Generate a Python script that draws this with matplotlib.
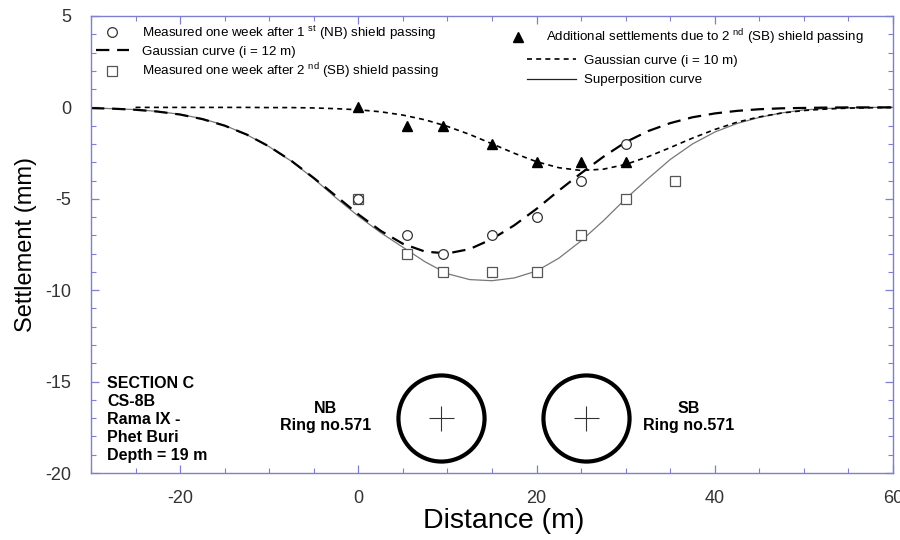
import numpy as np
import matplotlib
matplotlib.use('Agg')
import matplotlib.pyplot as plt
from matplotlib.lines import Line2D
from matplotlib.ticker import MultipleLocator, FixedLocator

plt.rcParams['font.family'] = ['Liberation Sans', 'DejaVu Sans']
plt.rcParams['mathtext.fontset'] = 'custom'
plt.rcParams['mathtext.rm'] = 'Liberation Sans'
plt.rcParams['axes.unicode_minus'] = False

# measured points
x_pts = [0, 5.5, 9.5, 15, 20, 25, 30]
nb_meas = [-5, -7, -8, -7, -6, -4, -2]
add_meas = [0, -1, -1, -2, -3, -3, -3]
x_sb = [0, 5.5, 9.5, 15, 20, 25, 30, 35.5]
sb_meas = [-5, -8, -9, -9, -9, -7, -5, -4]

# curves (every 2.5 m)
x_curve = [-30, -27.5, -25, -22.5, -20, -17.5, -15, -12.5, -10, -7.5, -5, -2.5,
           0, 2.5, 5, 7.5, 10, 12.5, 15, 17.5, 20, 22.5, 25, 27.5, 30, 32.5,
           35, 37.5, 40, 42.5, 45, 47.5, 50, 52.5, 55, 57.5, 60]
gauss12 = [-0.04, -0.07, -0.13, -0.23, -0.39, -0.64, -1.0, -1.49, -2.14, -2.93, -3.86, -4.85,
           -5.85, -6.75, -7.46, -7.89, -7.99, -7.75, -7.2, -6.45, -5.55, -4.55, -3.6, -2.7,
           -1.9, -1.3, -0.86, -0.54, -0.33, -0.19, -0.1, -0.05, -0.03, -0.01, 0, 0, 0]
x_curve2 = x_curve[2:]
gauss10 = [0, 0, 0, 0, 0, 0, -0.01, -0.01, -0.03, -0.07,
           -0.13, -0.24, -0.42, -0.68, -1.04, -1.48, -1.99, -2.51, -2.97, -3.3, -3.45, -3.38,
           -3.12, -2.7, -2.2, -1.68, -1.21, -0.81, -0.52, -0.31, -0.17, -0.09, -0.04, -0.02, 0]
superpos = [-0.03, -0.07, -0.12, -0.22, -0.38, -0.62, -0.98, -1.5, -2.15, -2.95, -3.9, -4.95,
            -5.95, -6.85, -7.65, -8.45, -9.1, -9.42, -9.48, -9.33, -8.95, -8.25, -7.3, -6.2,
            -5.0, -3.9, -2.85, -2.0, -1.35, -0.88, -0.55, -0.3, -0.14, -0.06, -0.02, 0, 0]

# tunnels
tunnel_x = [9.3, 25.6]
tunnel_y = [-17, -17]

spine_col = '#7f7fd0'

fig = plt.figure(figsize=(9, 5.4), dpi=100)
ax = fig.add_axes([91/900, 1-473/540, 802/900, 457/540])

ln_super, = ax.plot(x_curve, superpos, color='#777777', lw=0.9)
ln_g12, = ax.plot(x_curve, gauss12, color='black', lw=1.6, ls=(0, (6, 3.5)))
ln_g10, = ax.plot(x_curve2, gauss10, color='black', lw=1.2, ls=(0, (3, 2.5)))
sq, = ax.plot(x_sb, sb_meas, 's', ms=7.5, mfc='white', mec='#555555', mew=0.9, ls='none')
ci, = ax.plot(x_pts, nb_meas, 'o', ms=7, mfc='white', mec='#333333', mew=0.9, ls='none')
tr, = ax.plot(x_pts, add_meas, '^', ms=7, color='black', ls='none')

# tunnel sections
ax.plot(tunnel_x, tunnel_y, 'o', ms=62, mfc='none', mec='black', mew=3, ls='none')
ax.plot(tunnel_x, tunnel_y, '+', ms=18, mec='#333333', mew=0.8, ls='none')

ax.text(-28.2, -17.05, 'SECTION C\nCS-8B\nRama IX -\nPhet Buri\nDepth = 19 m',
        ha='left', va='center', fontsize=11.5, fontweight='bold', linespacing=1.25)
ax.text(-3.7, -16.95, 'NB\nRing no.571', ha='center', va='center',
        fontsize=11.5, fontweight='bold', linespacing=1.2)
ax.text(37.1, -16.95, 'SB\nRing no.571', ha='center', va='center',
        fontsize=11.5, fontweight='bold', linespacing=1.2)

ax.set_xlim(-30, 60)
ax.set_ylim(-20, 5)
ax.xaxis.set_major_locator(FixedLocator([-20, 0, 20, 40, 60]))
ax.xaxis.set_minor_locator(MultipleLocator(5))
ax.yaxis.set_major_locator(MultipleLocator(5))
ax.yaxis.set_minor_locator(MultipleLocator(1))
ax.tick_params(which='both', direction='in', top=True, right=True, color=spine_col,
               labelcolor='#333333', labelsize=13)
ax.tick_params(which='major', length=6, width=0.9)
ax.tick_params(which='minor', length=3.5, width=0.8)
ax.tick_params(axis='y', pad=14)
ax.tick_params(axis='x', pad=12)
for s in ax.spines.values():
    s.set_color(spine_col)
    s.set_linewidth(1.0)

ax.set_xlabel('Distance (m)', fontsize=20.5, x=0.515, labelpad=1)
ax.set_ylabel('Settlement (mm)', fontsize=17, labelpad=6)

leg_kw = dict(frameon=False, fontsize=9.6, loc='upper left', borderpad=0, borderaxespad=0)
leg1 = ax.legend([ci, ln_g12, sq],
                 ['Measured one week after 1 $^{\\mathrm{st}}$ (NB) shield passing',
                  'Gaussian curve (i = 12 m)',
                  'Measured one week after 2 $^{\\mathrm{nd}}$ (SB) shield passing'],
                 bbox_to_anchor=(0.006, 0.984), handlelength=2.5, handletextpad=1.0,
                 labelspacing=0.3, **leg_kw)
ax.add_artist(leg1)
leg2 = ax.legend([tr], ['Additional settlements due to 2 $^{\\mathrm{nd}}$ (SB) shield passing'],
                 bbox_to_anchor=(0.524, 0.974), handlelength=1.0, handletextpad=1.6, **leg_kw)
ax.add_artist(leg2)
super_proxy = Line2D([], [], color='#222222', lw=0.9)
ax.legend([ln_g10, super_proxy], ['Gaussian curve (i = 10 m)', 'Superposition curve'],
          bbox_to_anchor=(0.5436, 0.916), handlelength=3.7, handletextpad=0.6,
          labelspacing=0.55, **leg_kw)

fig.savefig('out.png', dpi=100)
